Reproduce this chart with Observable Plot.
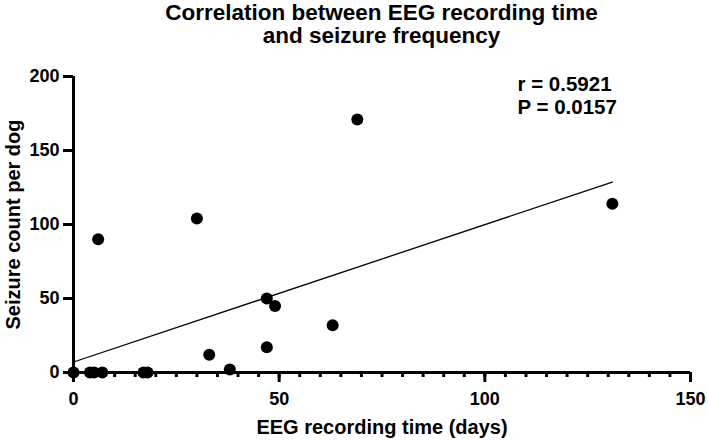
<!DOCTYPE html>
<html>
<head>
<meta charset="utf-8">
<script src="https://cdn.jsdelivr.net/npm/d3@7"></script>
<script src="https://cdn.jsdelivr.net/npm/@observablehq/plot@0.6"></script>
<style>
  html, body { margin: 0; padding: 0; background: #fff; }
  body { width: 708px; height: 441px; overflow: hidden; font-family: Arial, "Liberation Sans", sans-serif; }
  #title {
    box-sizing: border-box; width: 708px; height: 52px;
    padding: 1px 18px 0 73px; text-align: center;
    font-weight: bold; font-size: 22.5px; line-height: 23px; color: #000;
  }
</style>
</head>
<body>
<div id="title">Correlation between EEG recording time<br>and seizure frequency</div>
<div id="chart"></div>
<script>
// EEG recording time (days) per dog
const recordingDays = [0, 4, 5, 7, 6, 17, 18, 30, 33, 38, 47, 47, 49, 63, 69, 131];
// Seizure count per dog
const seizureCounts = [0, 0, 0, 0, 90, 0, 0, 104, 12, 2, 17, 50, 45, 32, 171, 114];

const statsText = ["r = 0.5921", "P = 0.0157"];
const xMajorTicks = [0, 50, 100, 150];
const xMinorTicks = [0, 5, 10, 15, 20, 25, 30, 35, 40, 45, 50, 55, 60, 65, 70, 75, 80, 85, 90, 95, 100, 105, 110, 115, 120, 125, 130, 135, 140, 145, 150];
const yTicks = [0, 50, 100, 150, 200];
const xLabel = "EEG recording time (days)";
const yLabel = "Seizure count per dog";

const data = recordingDays.map((d, i) => ({days: d, count: seizureCounts[i]}));

const font = 'Arial, "Liberation Sans", sans-serif';

const chart = Plot.plot({
  width: 708,
  height: 389,
  marginTop: 24,
  marginRight: 18,
  marginBottom: 69,
  marginLeft: 73,
  style: {fontFamily: font, background: "#fff", color: "#000"},
  x: {domain: [0, 150]},
  y: {domain: [0, 200]},
  marks: [
    Plot.axisX(xMinorTicks, {tickSize: 5, strokeWidth: 3, stroke: "#000", tickFormat: () => "", label: null}),
    Plot.axisX(xMajorTicks, {tickSize: 10, tickPadding: 10, strokeWidth: 3, stroke: "#000", fill: "#000",
      fontSize: 18, fontWeight: "bold", label: null, tickFormat: d => String(d)}),
    Plot.axisY(yTicks, {tickSize: 10, tickPadding: 4, strokeWidth: 3, stroke: "#000", fill: "#000",
      fontSize: 18, fontWeight: "bold", label: null, tickFormat: d => String(d)}),
    Plot.ruleX([0], {strokeWidth: 3, stroke: "#000"}),
    Plot.ruleY([0], {strokeWidth: 3, stroke: "#000"}),
    Plot.linearRegressionY(data, {x: "days", y: "count", ci: 0, stroke: "#000", strokeWidth: 1.3}),
    Plot.dot(data, {x: "days", y: "count", r: 6, fill: "#000", stroke: "none"}),
    Plot.text([xLabel], {frameAnchor: "bottom", textAnchor: "middle", lineAnchor: "bottom", dy: 61,
      fontSize: 20, fontWeight: "bold", fill: "#000"}),
    Plot.text([yLabel], {frameAnchor: "left", textAnchor: "middle", rotate: -90, lineAnchor: "bottom", dx: -54,
      fontSize: 20, fontWeight: "bold", fill: "#000"}),
    Plot.text([statsText.join("\n")], {frameAnchor: "top-left", textAnchor: "start", lineAnchor: "top",
      dx: 444, dy: -2, lineHeight: 1.13, fontSize: 20.5, fontWeight: "bold", fill: "#000"})
  ]
});
document.getElementById("chart").appendChild(chart);
</script>
</body>
</html>
